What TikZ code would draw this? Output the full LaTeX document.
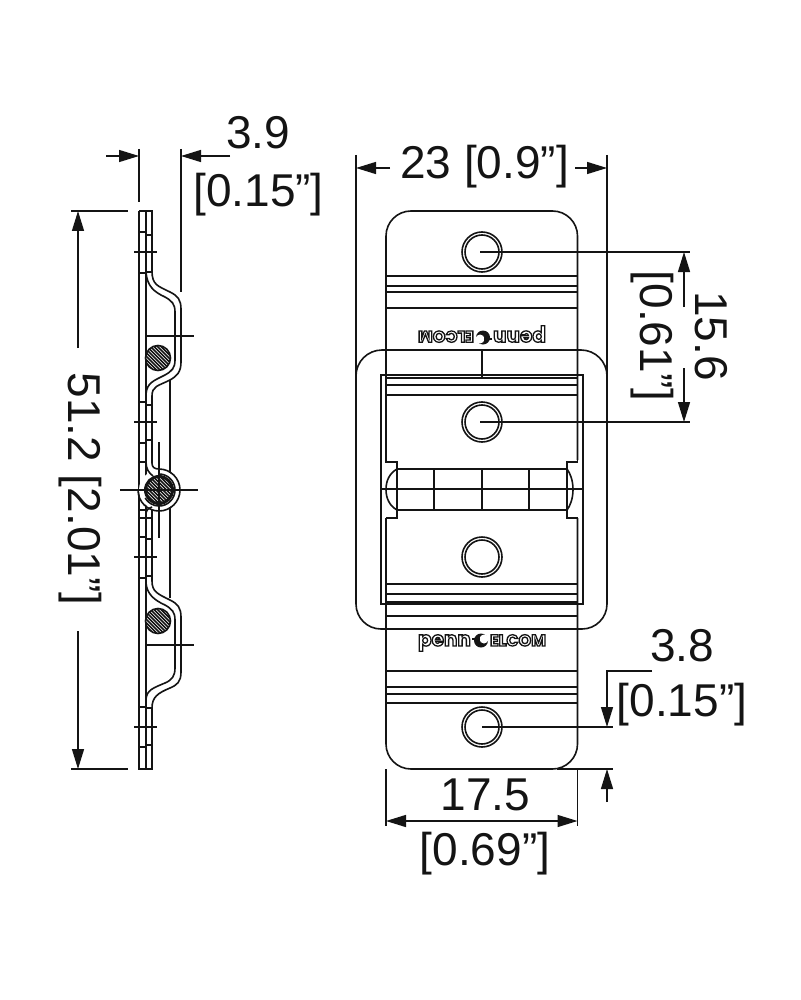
\documentclass[tikz,border=0pt]{standalone}
\usepackage{fontspec}
\setmainfont{Liberation Sans}
\newfontfamily\logoplain{Poppins}
\usetikzlibrary{arrows.meta}
\definecolor{ink}{gray}{0.08}
\tikzset{
 body/.style={line width=1.6pt,draw=ink},
 thin/.style={line width=1.4pt,draw=ink},
 heavy/.style={line width=2.6pt,draw=ink},
 dim/.style={line width=1.4pt,draw=ink},
 tip/.style={-{Triangle[length=20pt,width=12pt]}},
 lab/.style={font=\fontsize{46}{46}\selectfont,inner sep=0pt,text=ink,align=center},
 logoA/.style={inner sep=0pt,anchor=base,text=ink},
}
% outlined logo letters: name, x, y, rotation, size, text
\newcommand{\logopart}[6]{%
 \node[logoA,rotate=#4,font=\logoplain\bfseries\fontsize{#5}{#5}\selectfont] (#1) at (#2,#3)
  {\special{pdf:code 1 Tr 1.3 w}#6\special{pdf:code 0 Tr 1 w}};}
% hatched round bar
\newcommand{\hatchbar}[3]{%
 \begin{scope}
 \clip (#1,#2) circle (#3);
 \fill[white] (#1,#2) circle (#3);
 \foreach \d in {-24,-20.5,...,24} {
  \draw[line width=1.7pt,draw=ink] (#1-20+\d,#2-20) -- (#1+20+\d,#2+20);
 }
 \end{scope}
 \draw[line width=1.6pt,draw=ink] (#1,#2) circle (#3);}
\begin{document}
\begin{tikzpicture}[x=1pt,y=-1pt]
\useasboundingbox (0,0) rectangle (800,1000);
\fill[white] (0,0) rectangle (800,1000);
% ==== side view ====
\draw[body] (139,211) -- (139,769) -- (152,769) -- (152,708);
\draw[body] (139,211) -- (152,211) -- (152,271);
\draw[body] (146,211) -- (146,769);
% upper bend
\draw[body] (152,271) .. controls (152,285) and (158,286) .. (170,292)
  .. controls (178,296) and (181,300) .. (181,309) -- (181,362)
  .. controls (181,372) and (177,376) .. (170,380)
  .. controls (158,386) and (152,386) .. (152,396) -- (152,463);
\draw[body] (146,272) .. controls (147,286) and (154,292) .. (165,297)
  .. controls (172,301) and (175,304) .. (175,312) -- (175,360)
  .. controls (175,368) and (172,371) .. (165,375)
  .. controls (153,381) and (147,383) .. (146,394);
% lower bend
\draw[body] (152,581) .. controls (152,592) and (158,594) .. (170,600)
  .. controls (178,604) and (181,608) .. (181,617) -- (181,672)
  .. controls (181,682) and (177,685) .. (170,688)
  .. controls (158,693) and (152,697) .. (152,708);
\draw[body] (146,583) .. controls (147,594) and (154,600) .. (165,605)
  .. controls (172,609) and (175,612) .. (175,620) -- (175,668)
  .. controls (175,676) and (172,680) .. (165,683)
  .. controls (153,688) and (147,690) .. (146,699);
\draw[body] (152,510) -- (152,581);
% back line
\draw[thin] (170,380) -- (170,598);
% ticks
\foreach \y in {232,273,402,443,462,510,518,537,578,707,747}
  \draw[thin] (139,\y) -- (146,\y);
\foreach \y in {235,272,405,440,518,539,576,708,745}
  \draw[thin] (146,\y) -- (152,\y);
\foreach \y in {252,422,557,727}
  \draw[thin] (134,\y) -- (157,\y);
\draw[thin] (147,336) -- (194,336);
\draw[thin] (147,645) -- (194,645);
% round bars
\hatchbar{158}{358}{12.5}
\hatchbar{158}{621}{12.5}
% hinge
\fill[white] (159,490) circle (20);
\draw[body] (152,463) .. controls (152,467) and (154,469) .. (159,469);
\draw[body] (146,462) .. controls (146,469) and (149,473) .. (153,476);
\draw[body] (159,469) arc[start angle=-90,end angle=180,radius=21];
\draw[body] (159,474) arc[start angle=-90,end angle=150,radius=16];
\draw[body] (146,513) .. controls (147,509) and (149,508) .. (152,507);
\hatchbar{159}{490}{13.5}
\draw[line width=3pt,draw=ink] (159,490) circle (13.5);
\draw[thin] (120,490) -- (198,490);
\draw[thin] (159,442) -- (159,538);
% side dimensions
\draw[dim] (139,149) -- (139,202);
\draw[dim] (181,149) -- (181,292);
\draw[dim,tip] (106,156) -- (139,156);
\draw[dim,tip] (230,156) -- (181,156);
\draw[dim] (71,211) -- (128,211);
\draw[dim] (71,769) -- (128,769);
\draw[dim,tip] (78,348) -- (78,211);
\draw[dim,tip] (78,631) -- (78,769);
\node[lab] (w39) at (258,133) {3.9};
\node[lab] (w39b) at (258.5,195) {[0.15”]};
\node[lab,rotate=-90] (h512) at (80,489) {51.2 [2.01”]};
% ==== front view ====
% strap
\draw[body] (386,460) -- (386,236) arc[start angle=180,end angle=270,radius=25] -- (552.5,211)
  arc[start angle=270,end angle=360,radius=25] -- (577.5,460);
\draw[body] (386,518) -- (386,744) arc[start angle=180,end angle=90,radius=25] -- (552.5,769)
  arc[start angle=90,end angle=0,radius=25] -- (577.5,518);
\foreach \y in {276,286,292,308,385,395,584,594,616,671,687,694,703}
  \draw[thin] (386,\y) -- (577.5,\y);
\draw[heavy] (386,378) -- (577.5,378);
\draw[heavy] (386,602) -- (577.5,602);
% frame
\draw[body] (356,376) arc[start angle=180,end angle=270,radius=26] -- (581,350)
  arc[start angle=270,end angle=360,radius=26] -- (607,604) arc[start angle=0,end angle=90,radius=25]
  -- (381,629) arc[start angle=90,end angle=180,radius=25] -- cycle;
\draw[body] (381,375) rectangle (583,604);
\draw[body] (482,350) -- (482,378);
% notches
\draw[body] (386,460) -- (386,462) -- (397,462) -- (397,469);
\draw[body] (397,510) -- (397,518) -- (386,518);
\draw[body] (577.5,460) -- (577.5,462) -- (567,462) -- (567,469);
\draw[body] (567,510) -- (567,518) -- (577.5,518);
% hinge barrel
\draw[body] (397,469) -- (567,469);
\draw[body] (397,510) -- (567,510);
\draw[heavy] (397,469) -- (397,510);
\draw[heavy] (567,469) -- (567,510);
\foreach \x in {434,482,529} \draw[heavy] (\x,469) -- (\x,510);
\draw[body] (397,469) .. controls (390,473) and (386,480) .. (386,489.5) .. controls (386,499) and (390,506) .. (397,510);
\draw[body] (567,469) .. controls (570,473) and (573,480) .. (573,489.5) .. controls (573,499) and (570,506) .. (567,510);
\draw[thin] (382,489) -- (582,489);
% holes
\foreach \y in {252,422,557,727} {
  \fill[white] (482,\y) circle (20);
  \draw[body] (482,\y) circle (20);
  \draw[body] (482,\y) circle (17);
}
% logos
\logopart{pb}{444.5}{646}{0}{20}{penn}
\logopart{eb}{518}{646}{0}{16}{ELCOM}
\logopart{pt}{519.5}{331}{180}{20}{penn}
\logopart{et}{446}{331}{180}{16}{ELCOM}
% swoosh marks
\fill[ink] (481,640.5) circle (7);
\fill[white] (484,639) circle (4.5);
\draw[ink,line width=1.8pt] (472,639) -- (480,639);
\fill[ink] (483,337.5) circle (7);
\fill[white] (480,339) circle (4.5);
\draw[ink,line width=1.8pt] (492,339) -- (484,339);
% front dimensions
\draw[dim] (356,155) -- (356,376);
\draw[dim] (607,155) -- (607,376);
\draw[dim,tip] (390,168) -- (356,168);
\draw[dim,tip] (575,168) -- (607,168);
\node[lab] (w23) at (484.5,167) {23 [0.9”]};
\draw[dim] (480,252) -- (690,252);
\draw[dim] (480,422) -- (690,422);
\draw[dim,tip] (684,307) -- (684,252);
\draw[dim,tip] (684,368) -- (684,422);
\node[lab,rotate=-90] (h156) at (711,336) {15.6};
\node[lab,rotate=-90] (h156b) at (652,336) {[0.61”]};
\draw[dim] (482,727) -- (613,727);
\draw[dim] (557,769) -- (613,769);
\draw[dim,tip] (652,671) -- (607,671) -- (607,727);
\draw[dim,tip] (607,802) -- (607,769);
\node[lab] (d38) at (682,646) {3.8};
\node[lab] (d38b) at (682,705) {[0.15”]};
\draw[dim] (386,769) -- (386,826);
\draw[dim] (577.5,769) -- (577.5,826);
\draw[dim,{Triangle[length=20pt,width=12pt]}-{Triangle[length=20pt,width=12pt]}] (386,821) -- (577.5,821);
\node[lab] (d175) at (485.5,795) {17.5};
\node[lab] (d175b) at (485,854) {[0.69”]};
\end{tikzpicture}
\end{document}
